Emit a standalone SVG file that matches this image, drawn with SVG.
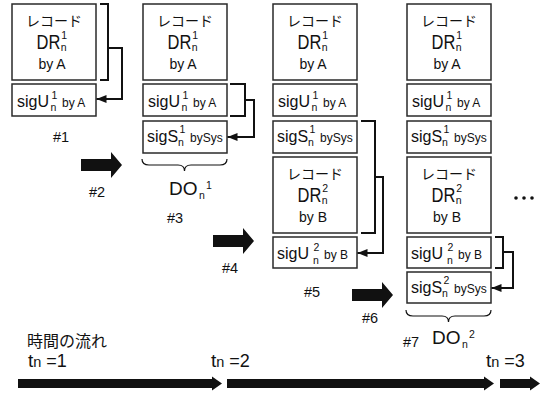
<svg xmlns="http://www.w3.org/2000/svg" width="544" height="393" viewBox="0 0 544 393">
<style>
text{font-family:"Liberation Sans",Arial,"Noto Sans CJK JP",sans-serif;fill:#111}
.box{fill:#fff;stroke:#2a2a2a;stroke-width:1.5}
.jp{font-size:14px;text-anchor:middle}
.dr{font-size:16.5px}
.sub{font-size:10.5px}
.mid{font-size:14px;text-anchor:middle}
.sig{font-size:16px}
.sm{font-size:12px}
.num{font-size:14.5px}
.do{font-size:19px}
.conn path{fill:none;stroke:#111;stroke-width:2}
.brace{fill:none;stroke:#111;stroke-width:1.2}
.blk{fill:#111}
</style>
<defs>
<marker id="ah" markerUnits="userSpaceOnUse" markerWidth="11" markerHeight="9" refX="10" refY="4" orient="auto">
<path d="M0,0 L10,4 L0,8 z" fill="#111"/>
</marker>
</defs>
<rect width="544" height="393" fill="#fff"/>

<!-- column 1 -->
<g id="c1-dr1" transform="translate(12,4)">
<rect class="box" width="84" height="76"/>
<text class="jp" x="42" y="22">レコード</text>
<text class="dr" transform="translate(24.5,44.5) scale(1,1.18)">DR</text>
<text class="sub" x="48.8" y="46.8">n<tspan x="49.3" y="34.6">1</tspan></text>
<text class="mid" x="40" y="65">by A</text>
</g>
<g id="c1-sigu1" transform="translate(12,84)">
<rect class="box" width="84" height="32"/>
<text class="sig" x="5" y="22.5">sigU<tspan class="sub" x="38.5" y="27">n</tspan><tspan class="sub" x="39.5" y="14.5">1</tspan><tspan class="sm" x="50" y="22.5">by A</tspan></text>
</g>

<!-- column 2 -->
<g id="c2-dr1" transform="translate(143,4)">
<rect class="box" width="84" height="76"/>
<text class="jp" x="42" y="22">レコード</text>
<text class="dr" transform="translate(24.5,44.5) scale(1,1.18)">DR</text>
<text class="sub" x="48.8" y="46.8">n<tspan x="49.3" y="34.6">1</tspan></text>
<text class="mid" x="40" y="65">by A</text>
</g>
<g id="c2-sigu1" transform="translate(143,84)">
<rect class="box" width="84" height="32"/>
<text class="sig" x="5" y="22.5">sigU<tspan class="sub" x="38.5" y="27">n</tspan><tspan class="sub" x="39.5" y="14.5">1</tspan><tspan class="sm" x="50" y="22.5">by A</tspan></text>
</g>
<g id="c2-sigs1" transform="translate(143,121)">
<rect class="box" width="84" height="32"/>
<text class="sig" x="4" y="21">sigS<tspan class="sub" x="35" y="24.5">n</tspan><tspan class="sub" x="36.5" y="12">1</tspan><tspan class="sm" x="47" y="21">bySys</tspan></text>
</g>

<!-- column 3 -->
<g id="c3-dr1" transform="translate(273,4)">
<rect class="box" width="84" height="76"/>
<text class="jp" x="42" y="22">レコード</text>
<text class="dr" transform="translate(24.5,44.5) scale(1,1.18)">DR</text>
<text class="sub" x="48.8" y="46.8">n<tspan x="49.3" y="34.6">1</tspan></text>
<text class="mid" x="40" y="65">by A</text>
</g>
<g id="c3-sigu1" transform="translate(273,84)">
<rect class="box" width="84" height="32"/>
<text class="sig" x="5" y="22.5">sigU<tspan class="sub" x="38.5" y="27">n</tspan><tspan class="sub" x="39.5" y="14.5">1</tspan><tspan class="sm" x="50" y="22.5">by A</tspan></text>
</g>
<g id="c3-sigs1" transform="translate(273,121)">
<rect class="box" width="84" height="32"/>
<text class="sig" x="4" y="21">sigS<tspan class="sub" x="35" y="24.5">n</tspan><tspan class="sub" x="36.5" y="12">1</tspan><tspan class="sm" x="47" y="21">bySys</tspan></text>
</g>
<g id="c3-dr2" transform="translate(273,157)">
<rect class="box" width="84" height="76"/>
<text class="jp" x="42" y="22">レコード</text>
<text class="dr" transform="translate(24.5,44.5) scale(1,1.18)">DR</text>
<text class="sub" x="48.8" y="46.8">n<tspan x="49.3" y="34.6">2</tspan></text>
<text class="mid" x="40" y="65">by B</text>
</g>
<g id="c3-sigu2" transform="translate(273,237)">
<rect class="box" width="84" height="31"/>
<text class="sig" x="4" y="22">sigU<tspan class="sub" x="40" y="26.5">n</tspan><tspan class="sub" x="40.5" y="14">2</tspan><tspan class="sm" x="51" y="22">by B</tspan></text>
</g>

<!-- column 4 -->
<g id="c4-dr1" transform="translate(407,4)">
<rect class="box" width="84" height="76"/>
<text class="jp" x="42" y="22">レコード</text>
<text class="dr" transform="translate(24.5,44.5) scale(1,1.18)">DR</text>
<text class="sub" x="48.8" y="46.8">n<tspan x="49.3" y="34.6">1</tspan></text>
<text class="mid" x="40" y="65">by A</text>
</g>
<g id="c4-sigu1" transform="translate(407,84)">
<rect class="box" width="84" height="32"/>
<text class="sig" x="5" y="22.5">sigU<tspan class="sub" x="38.5" y="27">n</tspan><tspan class="sub" x="39.5" y="14.5">1</tspan><tspan class="sm" x="50" y="22.5">by A</tspan></text>
</g>
<g id="c4-sigs1" transform="translate(407,121)">
<rect class="box" width="84" height="32"/>
<text class="sig" x="4" y="21">sigS<tspan class="sub" x="35" y="24.5">n</tspan><tspan class="sub" x="36.5" y="12">1</tspan><tspan class="sm" x="47" y="21">bySys</tspan></text>
</g>
<g id="c4-dr2" transform="translate(407,157)">
<rect class="box" width="84" height="76"/>
<text class="jp" x="42" y="22">レコード</text>
<text class="dr" transform="translate(24.5,44.5) scale(1,1.18)">DR</text>
<text class="sub" x="48.8" y="46.8">n<tspan x="49.3" y="34.6">2</tspan></text>
<text class="mid" x="40" y="65">by B</text>
</g>
<g id="c4-sigu2" transform="translate(407,237)">
<rect class="box" width="84" height="31"/>
<text class="sig" x="4" y="22">sigU<tspan class="sub" x="40" y="26.5">n</tspan><tspan class="sub" x="40.5" y="14">2</tspan><tspan class="sm" x="51" y="22">by B</tspan></text>
</g>
<g id="c4-sigs2" transform="translate(407,272)">
<rect class="box" width="84" height="31"/>
<text class="sig" x="4" y="21">sigS<tspan class="sub" x="35" y="24.5">n</tspan><tspan class="sub" x="36.5" y="12">2</tspan><tspan class="sm" x="47" y="21">bySys</tspan></text>
</g>

<!-- connectors (brackets and signing arrows) -->
<g id="connectors" class="conn">
<path d="M100,4 H108 V80 H100"/>
<path d="M108,48 H122 V99 H96.5" marker-end="url(#ah)"/>
<path d="M230,84 H245 V116 H230"/>
<path d="M245,100 H254 V137 H227.5" marker-end="url(#ah)"/>
<path d="M361,121 H375 V233 H361"/>
<path d="M375,177 H383 V253 H357.5" marker-end="url(#ah)"/>
<path d="M495,237 H503 V268 H495"/>
<path d="M503,252 H513 V288 H491.5" marker-end="url(#ah)"/>
</g>

<!-- braces and DO labels -->
<g id="do1">
<path class="brace" d="M142,159 Q142,165 149,165 L178,165 Q184.5,165 184.5,171 Q184.5,165 191,165 L220,165 Q227,165 227,159"/>
<text class="do" x="169" y="195">DO<tspan class="sub" x="199" y="199">n</tspan><tspan class="sub" x="206" y="189">1</tspan></text>
</g>
<g id="do2">
<path class="brace" d="M406,310 Q406,316 413,316 L442,316 Q448.5,316 448.5,322 Q448.5,316 455,316 L484,316 Q491,316 491,310"/>
<text class="do" x="432" y="344">DO<tspan class="sub" x="462" y="348">n</tspan><tspan class="sub" x="469" y="338">2</tspan></text>
</g>

<!-- ellipsis -->
<g id="ellipsis" class="blk">
<circle cx="516" cy="198" r="1.8"/><circle cx="524" cy="198" r="1.8"/><circle cx="532" cy="198" r="1.8"/>
</g>

<!-- step arrows and labels -->
<g id="steps">
<text class="num" x="53" y="142">#1</text>
<polygon class="blk" points="81,159 111,159 111,152 122,165 111,178 111,171 81,171"/>
<text class="num" x="89" y="197">#2</text>
<text class="num" x="167" y="223">#3</text>
<polygon class="blk" points="213,235 243,235 243,228 254,241 243,254 243,247 213,247"/>
<text class="num" x="222" y="273">#4</text>
<text class="num" x="304" y="297">#5</text>
<polygon class="blk" points="352,289 382,289 382,282 393,295 382,308 382,301 352,301"/>
<text class="num" x="362" y="323">#6</text>
<text class="num" x="403" y="347">#7</text>
</g>

<!-- time line -->
<g id="timeline">
<text x="27" y="347" font-size="16">時間の流れ</text>
<text x="28" y="367" font-size="18"><tspan font-size="19">t</tspan><tspan font-size="14.5">n</tspan> =1</text>
<text x="211" y="367" font-size="18"><tspan font-size="19">t</tspan><tspan font-size="14.5">n</tspan> =2</text>
<text x="486" y="367" font-size="18"><tspan font-size="19">t</tspan><tspan font-size="14.5">n</tspan> =3</text>
<polygon class="blk" points="18,379 212,379 212,376.5 222,383.5 212,390.5 212,388 18,388"/>
<polygon class="blk" points="227,379 484,379 484,376.5 494,383.5 484,390.5 484,388 227,388"/>
<polygon class="blk" points="500,379 530,379 530,376.5 540,383.5 530,390.5 530,388 500,388"/>
</g>
</svg>
